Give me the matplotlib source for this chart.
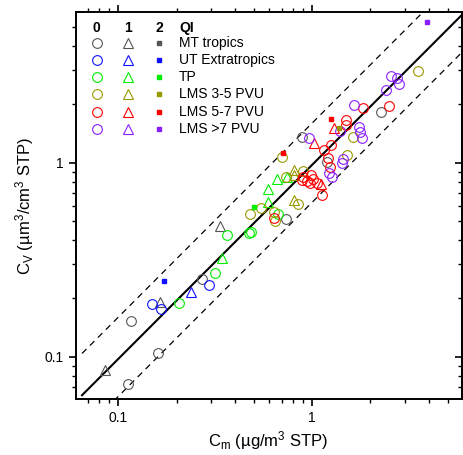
import numpy as np
import matplotlib
matplotlib.use('Agg')
import matplotlib.pyplot as plt
from matplotlib.ticker import LogLocator, NullFormatter, FixedLocator, FixedFormatter

plt.rcParams['font.family'] = ['Liberation Sans', 'DejaVu Sans']
plt.rcParams['mathtext.fontset'] = 'custom'
plt.rcParams['mathtext.rm'] = 'Liberation Sans'
plt.rcParams['mathtext.it'] = 'Liberation Sans:italic'

# ----- data (C_m in ug/m3 STP, C_V in um3/cm3 STP) -----

# MT tropics
mt_q0_x = [0.112, 0.116, 0.160, 0.269, 0.730, 0.885, 1.195, 2.26]
mt_q0_y = [0.072, 0.153, 0.104, 0.252, 0.510, 1.362, 1.008, 1.836]
mt_q1_x = [0.085, 0.165, 0.336]
mt_q1_y = [0.085, 0.192, 0.472]
mt_q2_x = []
mt_q2_y = []

# UT extratropics
ut_q0_x = [0.150, 0.167, 0.293]
ut_q0_y = [0.187, 0.176, 0.233]
ut_q1_x = [0.237]
ut_q1_y = [0.216]
ut_q2_x = [0.173]
ut_q2_y = [0.246]

# TP
tp_q0_x = [0.205, 0.315, 0.365, 0.471, 0.485, 0.668]
tp_q0_y = [0.190, 0.271, 0.426, 0.432, 0.437, 0.547]
tp_q1_x = [0.344, 0.593, 0.590, 0.658, 0.743]
tp_q1_y = [0.321, 0.627, 0.729, 0.821, 0.844]
tp_q2_x = [0.502]
tp_q2_y = [0.589]

# LMS 3-5 PVU
l35_q0_x = [0.479, 0.542, 0.637, 0.642, 0.703, 0.734, 0.896, 0.842, 1.51, 1.617, 3.50]
l35_q0_y = [0.544, 0.582, 0.557, 0.499, 1.07, 0.849, 0.906, 0.612, 1.102, 1.352, 2.98]
l35_q1_x = [0.808, 0.811, 0.811]
l35_q1_y = [0.917, 0.864, 0.639]
l35_q2_x = [1.383]
l35_q2_y = [1.518]

# LMS 5-7 PVU
l57_q0_x = [0.635, 0.888, 0.902, 0.939, 0.988, 1.016, 0.976, 1.057, 1.122, 1.153,
            1.253, 1.209, 1.238, 1.488, 1.497, 1.821, 2.494]
l57_q0_y = [0.519, 0.814, 0.847, 0.805, 0.864, 0.824, 0.789, 0.783, 0.682, 1.163,
            1.241, 1.057, 0.950, 1.660, 1.559, 1.914, 1.960]
l57_q1_x = [1.024, 1.106, 1.298]
l57_q1_y = [1.259, 0.777, 1.509]
l57_q2_x = [0.706, 1.246]
l57_q2_y = [1.126, 1.680]

# LMS >7 PVU
l7_q0_x = [0.969, 1.216, 1.260, 1.394, 1.439, 1.423, 1.736, 1.768, 1.804, 1.652,
           2.406, 2.563, 2.727, 2.815]
l7_q0_y = [1.336, 0.885, 0.849, 1.457, 1.051, 0.993, 1.528, 1.439, 1.336, 1.983,
           2.370, 2.809, 2.743, 2.536]
l7_q1_x = []
l7_q1_y = []
l7_q2_x = [3.93]
l7_q2_y = [5.33]

labels = ['MT tropics', 'UT Extratropics', 'TP', 'LMS 3-5 PVU', 'LMS 5-7 PVU', 'LMS >7 PVU']
colors = ['#555555', '#1010ff', '#00ee00', '#999900', '#ff0000', '#8a1eff']
groups = [
    [(mt_q0_x, mt_q0_y), (mt_q1_x, mt_q1_y), (mt_q2_x, mt_q2_y)],
    [(ut_q0_x, ut_q0_y), (ut_q1_x, ut_q1_y), (ut_q2_x, ut_q2_y)],
    [(tp_q0_x, tp_q0_y), (tp_q1_x, tp_q1_y), (tp_q2_x, tp_q2_y)],
    [(l35_q0_x, l35_q0_y), (l35_q1_x, l35_q1_y), (l35_q2_x, l35_q2_y)],
    [(l57_q0_x, l57_q0_y), (l57_q1_x, l57_q1_y), (l57_q2_x, l57_q2_y)],
    [(l7_q0_x, l7_q0_y), (l7_q1_x, l7_q1_y), (l7_q2_x, l7_q2_y)],
]

# fit line and +/- factor band
fit_factor = 0.975
band_factor = 1.6
line_x = np.array([0.065, 7.0])

# ----- plotting -----

fig = plt.figure(figsize=(4.63, 4.55), dpi=100)
ax = fig.add_axes([0.1635, 0.1237, 0.8333, 0.8499])
ax.set_xscale('log')
ax.set_yscale('log')
ax.set_xlim(0.0603, 5.9)
ax.set_ylim(0.0608, 5.98)

ax.plot(line_x, fit_factor * line_x, color='black', lw=1.5, zorder=2)
ax.plot(line_x, band_factor * line_x, color='black', lw=0.9, dashes=(5, 4), zorder=2)
ax.plot(line_x, line_x / band_factor, color='black', lw=0.9, dashes=(5, 4), zorder=2)

marker_style = ['o', '^', 's']
for col, grp in zip(colors, groups):
    for m, (xs, ys) in zip(marker_style, grp):
        if len(xs) == 0:
            continue
        if m == 's':
            ax.plot(xs, ys, ls='none', marker='s', ms=2.8, color=col, zorder=4)
        else:
            ax.plot(xs, ys, ls='none', marker=m, ms=7, mfc='none', mec=col, mew=0.8, zorder=3)

# manual legend in axes fraction
leg_cols = [0.054, 0.136, 0.217]
leg_text_x = 0.268
row_y = [0.921, 0.876, 0.833, 0.787, 0.742, 0.697]
head_y = 0.958
for i, h in enumerate(['0', '1', '2']):
    ax.text(leg_cols[i], head_y, h, transform=ax.transAxes, fontsize=10, fontweight='bold',
            ha='center', va='center')
ax.text(leg_text_x, head_y, 'QI', transform=ax.transAxes, fontsize=10, fontweight='bold',
        ha='left', va='center')
for lab, col, yy in zip(labels, colors, row_y):
    ax.plot([leg_cols[0]], [yy], transform=ax.transAxes, marker='o', ms=7, mfc='none', mec=col, mew=0.8)
    ax.plot([leg_cols[1]], [yy], transform=ax.transAxes, marker='^', ms=7, mfc='none', mec=col, mew=0.8)
    ax.plot([leg_cols[2]], [yy], transform=ax.transAxes, marker='s', ms=2.8, color=col)
    ax.text(leg_text_x, yy, lab, transform=ax.transAxes, fontsize=10, ha='left', va='center')

# ticks: bottom/left/top outward, right inward
for axis in [ax.xaxis, ax.yaxis]:
    axis.set_major_locator(FixedLocator([0.1, 1]))
    axis.set_major_formatter(FixedFormatter(['0.1', '1']))
    axis.set_minor_locator(LogLocator(base=10, subs=np.arange(2, 10)))
    axis.set_minor_formatter(NullFormatter())
ax.tick_params(which='major', direction='out', length=5, width=1.2, labelsize=10)
ax.tick_params(which='minor', direction='out', length=3, width=1.0)
ax.tick_params(axis='x', which='both', top=True)
ax.tick_params(axis='y', which='both', right=False)

ax_r = ax.secondary_yaxis('right')
ax_r.yaxis.set_major_locator(FixedLocator([0.1, 1]))
ax_r.yaxis.set_minor_locator(LogLocator(base=10, subs=np.arange(2, 10)))
ax_r.yaxis.set_major_formatter(NullFormatter())
ax_r.yaxis.set_minor_formatter(NullFormatter())
ax_r.tick_params(which='major', direction='in', length=5, width=1.2)
ax_r.tick_params(which='minor', direction='in', length=3, width=1.0)
ax_r.spines['right'].set_linewidth(1.4)

for sp in ax.spines.values():
    sp.set_linewidth(1.4)

ax.set_xlabel(r'C$_\mathrm{m}$ (µg/m$^3$ STP)', fontsize=12, labelpad=3)
ax.set_ylabel(r'C$_\mathrm{V}$ (µm$^3$/cm$^3$ STP)', fontsize=12, labelpad=6)

fig.savefig('out.png', dpi=100)
